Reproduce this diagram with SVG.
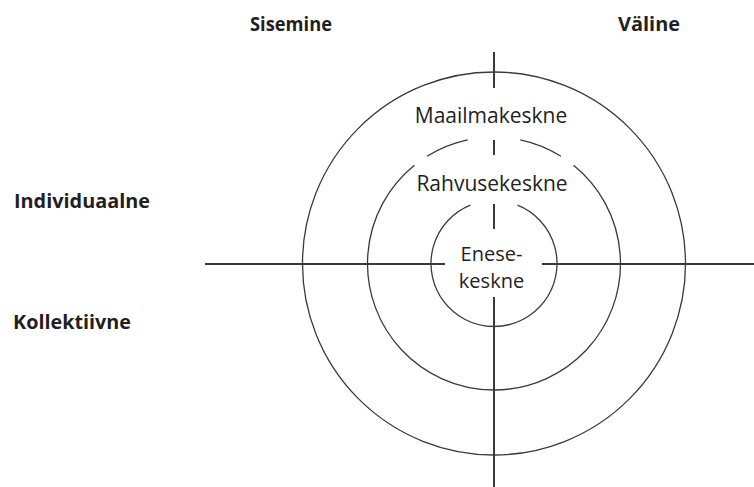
<svg xmlns="http://www.w3.org/2000/svg" width="754" height="487" viewBox="0 0 754 487">
<style>
.axis{stroke:#3a3a3a;stroke-width:2;fill:none}
.ring{stroke:#3a3a3a;stroke-width:1.3;fill:none}
.lbl{font-family:"Open Sans","Noto Sans","Liberation Sans",sans-serif;font-size:21px;fill:#231f20;text-anchor:middle}
.sm{font-size:20px}
.hd{font-family:"Open Sans","Noto Sans","Liberation Sans",sans-serif;font-size:20px;font-weight:bold;fill:#231f20}
</style>
<rect width="754" height="487" fill="#ffffff"/>
<g id="rings">
<circle id="outer-ring" class="ring" cx="494" cy="263.5" r="191.5"/>
<g id="middle-ring">
<path class="ring" d="M520.3,139.8 A126.5,126.5 0 0 1 561.0,156.2"/>
<path class="ring" d="M573.6,165.2 A126.5,126.5 0 1 1 414.4,165.2"/>
<path class="ring" d="M427.0,156.2 A126.5,126.5 0 0 1 467.7,139.8"/>
</g>
<path id="inner-ring" class="ring" d="M517.6,205.1 A63,63 0 1 1 470.4,205.1"/>
</g>
<g id="connectors">
<line class="axis" x1="205" y1="264" x2="445" y2="264"/>
<line class="axis" x1="542" y1="264" x2="754" y2="264"/>
<line class="axis" x1="494" y1="52" x2="494" y2="88"/>
<line class="axis" x1="494" y1="140" x2="494" y2="155"/>
<line class="axis" x1="494" y1="204" x2="494" y2="229"/>
<line class="axis" x1="494" y1="297" x2="494" y2="487"/>
</g>
<g id="node-maailmakeskne"><text class="lbl" x="491" y="123">Maailmakeskne</text></g>
<g id="node-rahvusekeskne"><text class="lbl" x="492" y="191">Rahvusekeskne</text></g>
<g id="node-enesekeskne"><text class="lbl sm" x="491.5" y="260.5"><tspan x="491.5" y="260.5">Enese-</tspan><tspan x="491.5" y="288">keskne</tspan></text></g>
<g id="node-sisemine"><text class="hd" x="250" y="31" textLength="82" lengthAdjust="spacingAndGlyphs">Sisemine</text></g>
<g id="node-valine"><text class="hd" x="618" y="31" textLength="62" lengthAdjust="spacingAndGlyphs">Väline</text></g>
<g id="node-individuaalne"><text class="hd" x="14" y="208" textLength="136" lengthAdjust="spacingAndGlyphs">Individuaalne</text></g>
<g id="node-kollektiivne"><text class="hd" x="13" y="329" textLength="118" lengthAdjust="spacingAndGlyphs">Kollektiivne</text></g>
</svg>
